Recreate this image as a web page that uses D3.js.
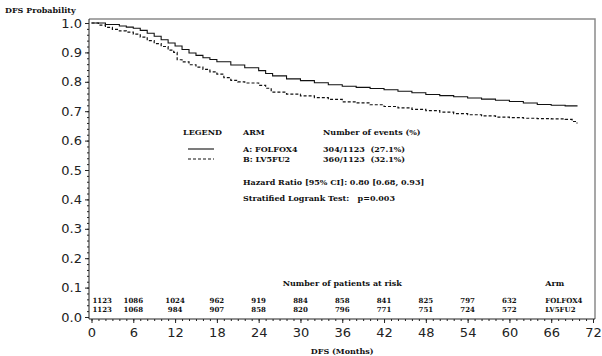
<!DOCTYPE html>
<html>
<head>
<meta charset="utf-8">
<script src="https://cdn.jsdelivr.net/npm/d3@7"></script>
<style>
  body { margin: 0; background: #fff; }
  .lab { font-family: 'DejaVu Serif', serif; font-weight: bold; font-size: 8px; fill: #111; }
  .risk { font-size: 7px; }
  .tick text { font-family: 'DejaVu Sans', sans-serif; font-size: 13px; fill: #222; }
</style>
</head>
<body>
<div id="chart"></div>
<script>
// Kaplan-Meier estimates (months, DFS probability).
var folfoxMonths = [0, 2, 4, 5, 6, 7, 8, 9, 10, 11, 12, 13, 14, 15, 16, 17, 18, 20, 22, 24, 25, 26, 28, 30, 32, 34, 36, 38, 40, 42, 44, 46, 48, 50, 52, 54, 56, 58, 60, 62, 64, 66, 68, 69.7];
var folfoxSurv   = [1.0, 0.995, 0.99, 0.986, 0.982, 0.975, 0.965, 0.955, 0.943, 0.932, 0.922, 0.91, 0.898, 0.89, 0.882, 0.876, 0.868, 0.857, 0.848, 0.838, 0.828, 0.82, 0.81, 0.804, 0.797, 0.79, 0.785, 0.781, 0.777, 0.773, 0.768, 0.763, 0.757, 0.753, 0.749, 0.745, 0.741, 0.737, 0.733, 0.728, 0.723, 0.72, 0.718, 0.716];

var lv5fu2Months = [0, 1, 2, 3, 4, 5, 6, 7, 8, 9, 10, 11, 11.8, 12.3, 13, 14, 15, 16, 17, 18, 19, 20, 21, 22, 24, 25, 25.8, 28, 30, 32, 34, 36, 38, 40, 42, 44, 46, 48, 50, 52, 54, 56, 58, 60, 62, 64, 66, 68, 69, 69.7];
var lv5fu2Surv   = [1.0, 0.993, 0.985, 0.978, 0.973, 0.969, 0.962, 0.952, 0.94, 0.93, 0.92, 0.908, 0.9, 0.875, 0.868, 0.858, 0.85, 0.842, 0.834, 0.826, 0.814, 0.805, 0.8, 0.796, 0.788, 0.778, 0.765, 0.758, 0.752, 0.746, 0.74, 0.732, 0.728, 0.722, 0.716, 0.711, 0.706, 0.702, 0.697, 0.692, 0.688, 0.684, 0.68, 0.678, 0.676, 0.675, 0.674, 0.672, 0.665, 0.658];

// Number of patients at risk.
var riskMonths = [0, 6, 12, 18, 24, 30, 36, 42, 48, 54, 60];
var riskFolfox = [1123, 1086, 1024, 962, 919, 884, 858, 841, 825, 797, 632];
var riskLv5fu2 = [1123, 1068, 984, 907, 858, 820, 796, 771, 751, 724, 572];

var armNames = ['FOLFOX4', 'LV5FU2'];
var legendArms = ['A: FOLFOX4', 'B: LV5FU2'];
var legendEvents = ['304/1123  (27.1%)', '360/1123  (32.1%)'];

var xTicks = d3.range(0, 73, 6);
var yTicks = d3.range(0, 11).map(function(d){ return d / 10; });

var margin = {left: 89, right: 7, top: 19, bottom: 37};
var width = 602 - margin.left - margin.right,
    height = 300;

var svg = d3.select('#chart')
    .append('svg')
        .attr('width', 602)
        .attr('height', 356)
    .append('g')
        .attr('transform', 'translate(' + margin.left + ', ' + margin.top + ')');

var x = d3.scaleLinear().domain([0, 72]).range([2.5, width - 2]);
var y = d3.scaleLinear().domain([0, 1]).range([298, 4]);

// frame (grey top and right border)
svg.append('path')
    .attr('d', 'M0,0H' + width + 'V' + height)
    .attr('fill', 'none')
    .attr('stroke', '#8a8a8a')
    .attr('stroke-width', 1.5);

// minor ticks
svg.append('g')
    .call(d3.axisLeft(y).tickValues(d3.range(0, 51).map(function(d){ return d / 50; })).tickSize(2).tickFormat(''))
    .call(function(g){ g.select('.domain').remove(); });
svg.append('g')
    .attr('transform', 'translate(0,' + height + ')')
    .call(d3.axisBottom(x).tickValues(d3.range(0, 73)).tickSize(2).tickFormat(''))
    .call(function(g){ g.select('.domain').remove(); });

// y axis
var yAxis = svg.append('g')
    .attr('class', 'y-axis')
    .call(d3.axisLeft(y).tickValues(yTicks).tickSize(4).tickPadding(3).tickFormat(d3.format('.1f')));
yAxis.select('.domain').attr('d', 'M0,0V' + height);

// x axis
var xAxis = svg.append('g')
    .attr('class', 'x-axis')
    .attr('transform', 'translate(0,' + height + ')')
    .call(d3.axisBottom(x).tickValues(xTicks).tickSize(4).tickPadding(5));
xAxis.select('.domain').attr('d', 'M0,0H' + width);

svg.selectAll('.domain, .tick line').attr('stroke', '#222');

// axis titles
svg.append('text')
    .attr('class', 'lab')
    .attr('x', -84)
    .attr('y', -6)
    .text('DFS Probability');

svg.append('text')
    .attr('class', 'lab')
    .attr('x', x(36))
    .attr('y', height + 35)
    .attr('text-anchor', 'middle')
    .text('DFS (Months)');

// survival curves
var line = d3.line()
    .x(function(d){ return x(d[0]); })
    .y(function(d){ return y(d[1]); })
    .curve(d3.curveStepAfter);

svg.append('path')
    .datum(d3.zip(folfoxMonths, folfoxSurv))
    .attr('d', line)
    .attr('fill', 'none')
    .attr('stroke', '#111')
    .attr('stroke-width', 1.1);

svg.append('path')
    .datum(d3.zip(lv5fu2Months, lv5fu2Surv))
    .attr('d', line)
    .attr('fill', 'none')
    .attr('stroke', '#111')
    .attr('stroke-width', 1.2)
    .attr('stroke-dasharray', '3,2');

// legend
var lg = svg.append('g').attr('transform', 'translate(94, 116)');
lg.append('text').attr('class', 'lab').attr('x', 0).attr('y', 0).text('LEGEND');
lg.append('text').attr('class', 'lab').attr('x', 60).attr('y', 0).text('ARM');
lg.append('text').attr('class', 'lab').attr('x', 140).attr('y', 0).text('Number of events (%)');

legendArms.forEach(function(name, i){
    var yy = 17 + i * 10;
    lg.append('line')
        .attr('x1', 5).attr('x2', 31)
        .attr('y1', yy - 3).attr('y2', yy - 3)
        .attr('stroke', '#111')
        .attr('stroke-width', 1.1)
        .attr('stroke-dasharray', i === 1 ? '3,2' : null);
    lg.append('text').attr('class', 'lab').attr('x', 60).attr('y', yy).text(name);
    lg.append('text').attr('class', 'lab').attr('x', 140).attr('y', yy).text(legendEvents[i]).style('white-space', 'pre');
});

lg.append('text').attr('class', 'lab').attr('x', 60).attr('y', 50).text('Hazard Ratio [95% CI]: 0.80 [0.68, 0.93]');
lg.append('text').attr('class', 'lab').attr('x', 60).attr('y', 66).text('Stratified Logrank Test:   p=0.003').style('white-space', 'pre');

// number at risk table
svg.append('text')
    .attr('class', 'lab')
    .attr('x', x(36))
    .attr('y', 267)
    .attr('text-anchor', 'middle')
    .text('Number of patients at risk');

svg.append('text')
    .attr('class', 'lab')
    .attr('x', x(66) - 6)
    .attr('y', 267)
    .text('Arm');

[riskFolfox, riskLv5fu2].forEach(function(row, r){
    svg.selectAll('.risk' + r)
        .data(row)
        .enter().append('text')
            .attr('class', 'lab risk risk' + r)
            .attr('x', function(d, i){ return i === 0 ? x(riskMonths[i]) + 1 : x(riskMonths[i]); })
            .attr('y', 284 + r * 9)
            .attr('text-anchor', function(d, i){ return i === 0 ? 'start' : 'middle'; })
            .text(function(d){ return d; });
    svg.append('text')
        .attr('class', 'lab risk')
        .attr('x', x(66) - 6)
        .attr('y', 284 + r * 9)
        .text(armNames[r]);
});
</script>
</body>
</html>
